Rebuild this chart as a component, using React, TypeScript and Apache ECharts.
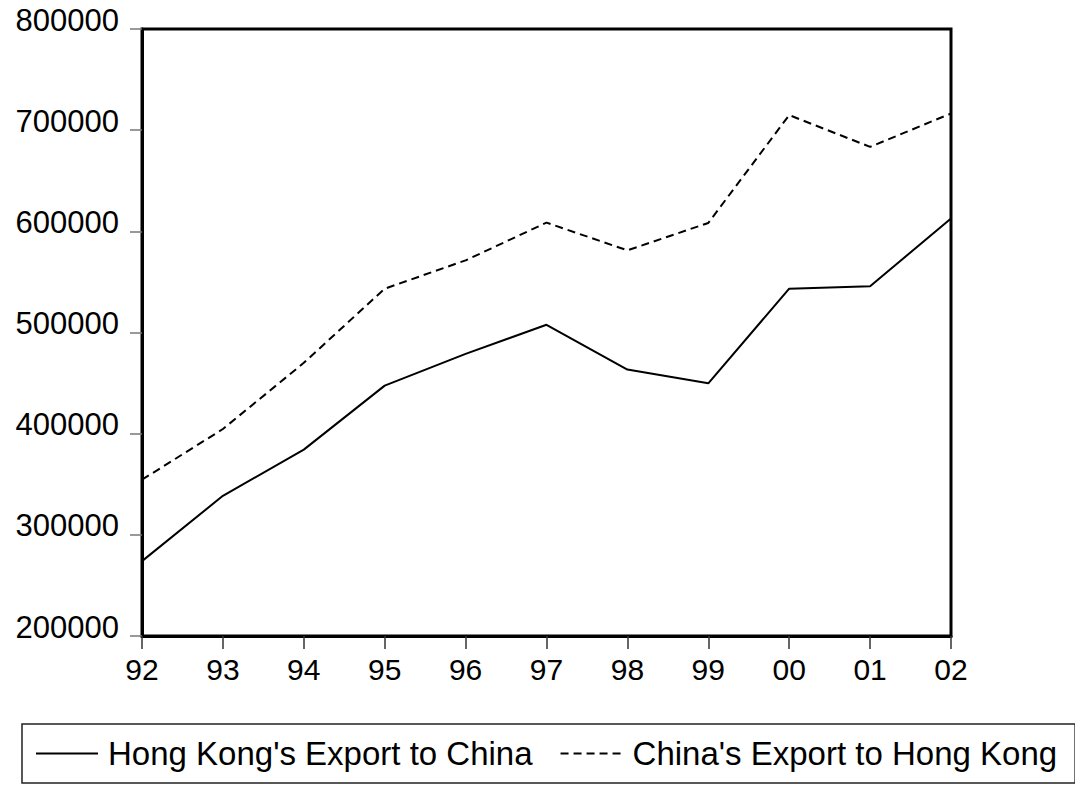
import React, { useEffect, useRef } from "react";
import * as echarts from "echarts";

const years = ["92", "93", "94", "95", "96", "97", "98", "99", "00", "01", "02"];
const hkToChina = [274000, 338600, 384200, 447500, 478900, 507600, 463400, 449800, 543300, 545800, 612600];
const chinaToHk = [354500, 404600, 470000, 543300, 571300, 608600, 581200, 608300, 714900, 683500, 716500];
const seriesNames = ["Hong Kong's Export to China", "China's Export to Hong Kong"];
const yMin = 200000;
const yMax = 800000;
const yStep = 100000;

const FONT = "'Liberation Sans', Arial, sans-serif";

export default function App() {
  const ref = useRef<HTMLDivElement>(null);
  useEffect(() => {
    if (!ref.current) return;
    const chart = echarts.init(ref.current, null, { renderer: "svg" });
    chart.setOption({
      animation: false,
      backgroundColor: "#ffffff",
      textStyle: { fontFamily: FONT },
      grid: {
        show: true,
        left: 142,
        right: 124,
        top: 29,
        bottom: 151,
        borderColor: "#000",
        borderWidth: 3,
        containLabel: false,
      },
      legend: {
        left: 22,
        top: 724,
        width: 1052,
        orient: "horizontal",
        itemWidth: 62,
        itemHeight: 20,
        itemGap: 27,
        padding: [13, 18, 13, 13],
        borderColor: "#222",
        borderWidth: 1.5,
        itemStyle: { opacity: 0 },
        lineStyle: { width: 2 },
        textStyle: {
          fontFamily: FONT,
          fontSize: 33,
          color: "#000",
          padding: [0, 0, 0, 5],
        },
        data: seriesNames,
      },
      xAxis: {
        type: "category",
        data: years,
        boundaryGap: false,
        axisLine: { show: true, lineStyle: { color: "#000", width: 3 } },
        axisTick: {
          show: true,
          inside: false,
          length: 13,
          interval: 0,
          lineStyle: { color: "#333", width: 1.5 },
        },
        axisLabel: {
          interval: 0,
          margin: 18,
          fontSize: 30,
          fontFamily: FONT,
          color: "#000",
        },
        splitLine: { show: false },
      },
      yAxis: {
        type: "value",
        min: yMin,
        max: yMax,
        interval: yStep,
        axisLine: { show: true, lineStyle: { color: "#000", width: 3 } },
        axisTick: {
          show: true,
          inside: false,
          length: 12,
          lineStyle: { color: "#777", width: 1.5 },
        },
        axisLabel: {
          margin: 23,
          fontSize: 31,
          fontFamily: FONT,
          color: "#000",
          verticalAlign: "bottom",
          lineHeight: 18,
          formatter: (v: number) => String(v),
        },
        splitLine: { show: false },
      },
      series: [
        {
          name: seriesNames[0],
          type: "line",
          data: hkToChina,
          symbol: "none",
          showSymbol: false,
          lineStyle: { color: "#000", width: 2, type: "solid" },
          itemStyle: { color: "#000" },
        },
        {
          name: seriesNames[1],
          type: "line",
          data: chinaToHk,
          symbol: "none",
          showSymbol: false,
          lineStyle: { color: "#000", width: 2, type: [8, 5] },
          itemStyle: { color: "#000" },
        },
      ],
    });
    return () => chart.dispose();
  }, []);
  return (
    <div
      ref={ref}
      style={{ position: "absolute", left: 0, top: 0, width: 1075, height: 787 }}
    />
  );
}
